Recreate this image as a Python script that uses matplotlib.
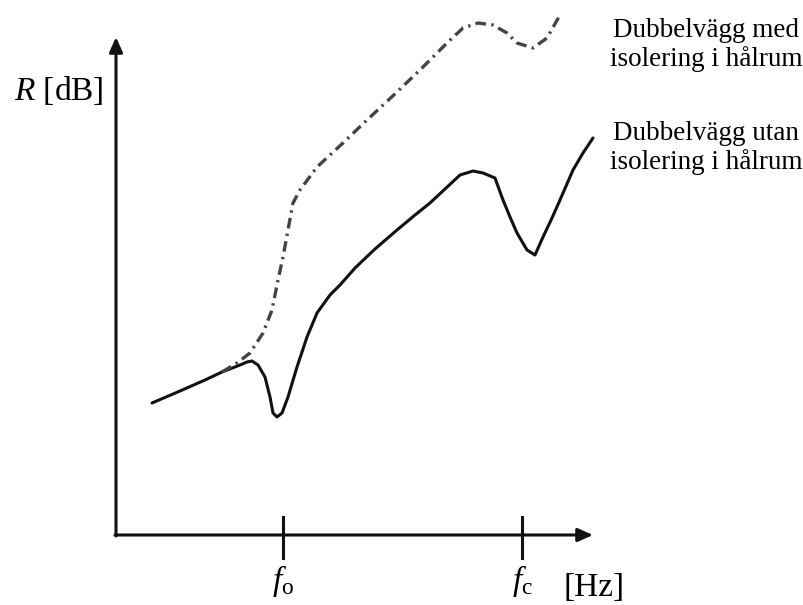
import numpy as np
import matplotlib
matplotlib.use('Agg')
import matplotlib.pyplot as plt

# curves, in image pixels (x right, y down)
solid_x = [152, 180, 205, 222, 240, 247, 252, 258, 265, 270, 273, 277, 282, 288, 297, 307, 317, 330,
           340, 355, 375, 397, 415, 430, 445, 460, 473, 483, 495, 503, 510, 517, 527, 535, 543, 552,
           560, 573, 583, 593]
solid_y = [403, 391, 380, 372, 365, 362, 361, 365, 377, 397, 413, 417, 413, 397, 367, 337, 313, 295,
           285, 268, 249, 230, 215, 203, 189, 175, 171, 173, 178, 200, 217, 233, 250, 255, 237, 218,
           200, 170, 153, 138]

dash_x = [222, 237, 250, 263, 272, 278, 283, 288, 293, 300, 317, 343, 367, 397, 423, 447, 463, 478,
          493, 507, 517, 533, 547, 560]
dash_y = [372, 363, 353, 333, 310, 280, 257, 230, 203, 190, 167, 143, 120, 92, 67, 43, 28, 23,
          25, 33, 43, 48, 38, 15]

tick_x = [283, 522]
tick_labels = [r'$f_{\mathrm{o}}$', r'$f_{\mathrm{c}}$']

plt.rcParams['mathtext.fontset'] = 'custom'
plt.rcParams['mathtext.rm'] = 'Liberation Serif'
plt.rcParams['mathtext.it'] = 'Liberation Serif:italic'
serif = ['Liberation Serif', 'DejaVu Serif']

fig = plt.figure(figsize=(8.04, 6.05), dpi=100)
ax = fig.add_axes([0, 0, 1, 1])
ax.set_xlim(0, 804)
ax.set_ylim(605, 0)
ax.axis('off')

ink = '#111111'
arrow = dict(arrowstyle='-|>,head_length=0.9,head_width=0.4', lw=2.2, color=ink,
             shrinkA=0, shrinkB=0)
ax.annotate('', xy=(116, 37), xytext=(116, 536), arrowprops=arrow)
ax.annotate('', xy=(593, 535), xytext=(115, 535), arrowprops=arrow)

for x in tick_x:
    ax.plot([x, x], [517, 558], color=ink, lw=2.2)

ax.plot(solid_x, solid_y, color=ink, lw=2.2, solid_joinstyle='round', solid_capstyle='round')
ax.plot(dash_x, dash_y, color='#444444', lw=2.4, dashes=(3.2, 1.6, 0.7, 1.6))

for x, lab in zip(tick_x, tick_labels):
    ax.text(x, 590, lab, fontsize=24, ha='center', va='baseline', family=serif)
ax.text(594, 596, '[Hz]', fontsize=24, ha='center', va='baseline', family=serif)
ax.text(59, 100, r'$R$ [dB]', fontsize=24, ha='center', va='baseline', family=serif)

ax.text(706, 45, 'Dubbelvägg med\nisolering i hålrum', fontsize=19.5, ha='center', va='center',
        family=serif, linespacing=1.15)
ax.text(706, 148, 'Dubbelvägg utan\nisolering i hålrum', fontsize=19.5, ha='center', va='center',
        family=serif, linespacing=1.15)

fig.savefig('out.png', dpi=100)
